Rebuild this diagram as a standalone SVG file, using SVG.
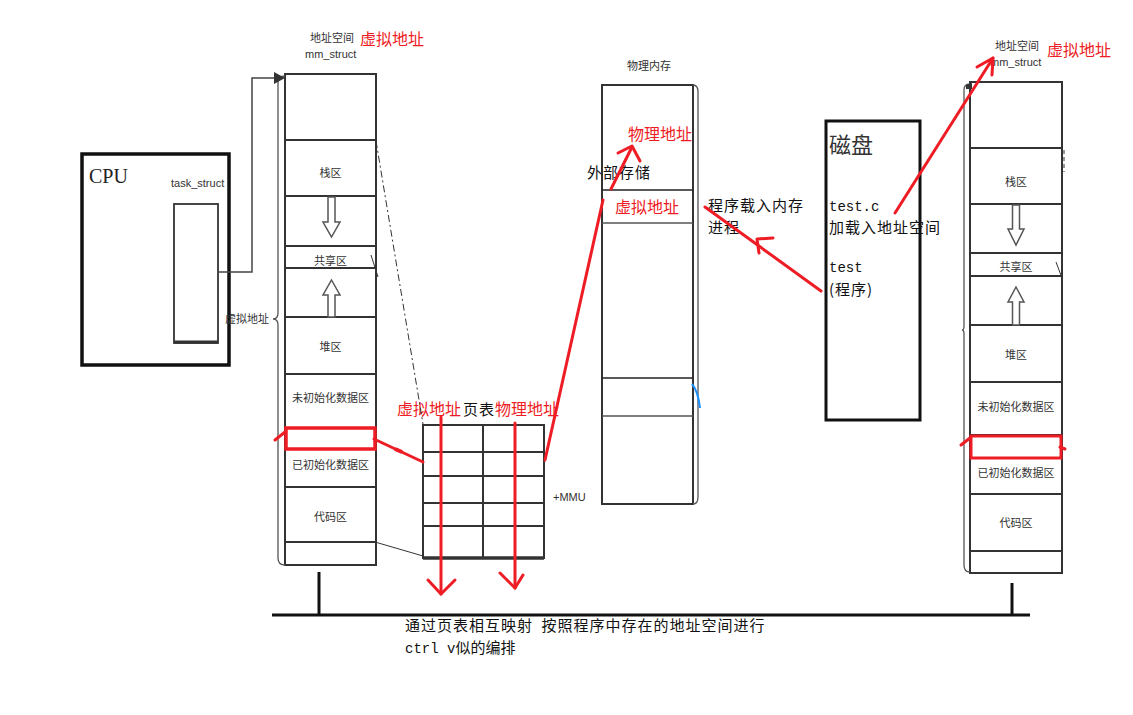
<svg xmlns="http://www.w3.org/2000/svg" width="1133" height="715" viewBox="0 0 1133 715">
<style>
.bx{fill:#fff;stroke:#333;stroke-width:2}
.ln{fill:none;stroke:#333;stroke-width:2}
.thin{fill:none;stroke:#555;stroke-width:1.3}
.red{fill:none;stroke:#ee1c24;stroke-width:3;stroke-linecap:round;stroke-linejoin:round}
.harrow{fill:#fff;stroke:#555;stroke-width:1.5}
.lab{font-family:"Noto Sans CJK SC","Liberation Sans",sans-serif;font-size:11px;fill:#333;text-anchor:middle}
.sm{font-family:"Liberation Sans","Noto Sans CJK SC",sans-serif;font-size:11px;fill:#333}
.cn{font-family:"Noto Sans CJK SC",sans-serif;font-size:15px;letter-spacing:1px;fill:#111}
.rt{font-family:"Noto Sans CJK SC",sans-serif;font-size:16px;fill:#ee1c24}
.mono{font-family:"Liberation Mono","Noto Sans CJK SC",monospace;font-size:14px;fill:#111}
</style>
<rect width="1133" height="715" fill="#fff"/>

<g id="cpu">
<rect x="82" y="154" width="147" height="211" fill="#fff" stroke="#111" stroke-width="3.5"/>
<text x="89" y="183" font-family="Liberation Serif,serif" font-size="20" fill="#222">CPU</text>
<text x="171" y="187" class="sm">task_struct</text>
<rect x="174" y="204" width="44" height="139" fill="#fff" stroke="#333" stroke-width="1.8"/>
<line x1="174" y1="342" x2="218" y2="342" stroke="#333" stroke-width="3"/>
</g>

<g id="vspace-left">
<text x="310" y="42" class="sm" font-family="Noto Sans CJK SC,sans-serif">地址空间</text>
<text x="360" y="45" class="rt">虚拟地址</text>
<text x="305" y="58" class="sm">mm_struct</text>
<rect x="285" y="74" width="91" height="491" class="bx"/>
<line x1="285" y1="140" x2="376" y2="140" class="ln"/>
<line x1="285" y1="196" x2="376" y2="196" class="ln"/>
<line x1="285" y1="246" x2="376" y2="246" class="ln"/>
<line x1="285" y1="268" x2="376" y2="268" class="ln"/>
<line x1="285" y1="317" x2="376" y2="317" class="ln"/>
<line x1="285" y1="374" x2="376" y2="374" class="ln"/>
<line x1="285" y1="428" x2="376" y2="428" class="ln"/>
<line x1="285" y1="487" x2="376" y2="487" class="ln"/>
<line x1="285" y1="542" x2="376" y2="542" class="ln"/>
<path d="M285,76 Q278,76 278,83 L278,313 Q278,319 273,319 Q278,319 278,325 L278,558 Q278,565 285,565" class="thin"/>
<text x="247" y="323" class="lab" font-size="11">虚拟地址</text>
<path d="M328,197 L335,197 L335,222 L340,222 L331.5,237 L323,222 L328,222 Z" class="harrow"/>
<path d="M331.5,280 L340,295 L335,295 L335,317 L328,317 L328,295 L323,295 Z" class="harrow"/>
<text x="330.5" y="177" class="lab">栈区</text>
<text x="330.5" y="265" class="lab">共享区</text>
<text x="330.5" y="351" class="lab">堆区</text>
<text x="330.5" y="402" class="lab">未初始化数据区</text>
<text x="330.5" y="469" class="lab">已初始化数据区</text>
<text x="330.5" y="521" class="lab">代码区</text>
<rect x="286" y="428" width="89" height="21" fill="none" stroke="#ee1c24" stroke-width="3.5"/>
<path d="M285,432 L275,440" class="red"/>
</g>

<g id="pagetable">
<text x="463" y="415" class="cn" font-size="13" letter-spacing="0">页表</text>
<text x="397" y="415" class="rt">虚拟地址</text>
<text x="495" y="415" class="rt">物理地址</text>
<rect x="423" y="425" width="121" height="133" class="bx"/>
<line x1="423" y1="452" x2="544" y2="452" class="ln"/>
<line x1="423" y1="476" x2="544" y2="476" class="ln"/>
<line x1="423" y1="503" x2="544" y2="503" class="ln"/>
<line x1="423" y1="526" x2="544" y2="526" class="ln"/>
<line x1="483" y1="425" x2="483" y2="558" class="ln"/>
<line x1="423" y1="558" x2="544" y2="558" stroke="#333" stroke-width="3.5"/>
<text x="553" y="501" class="sm" font-size="11">+MMU</text>
</g>

<g id="physmem">
<text x="627" y="70" class="sm" font-family="Noto Sans CJK SC,sans-serif" font-size="10.5">物理内存</text>
<rect x="602" y="85" width="91" height="419" class="bx"/>
<line x1="602" y1="190" x2="693" y2="190" stroke="#222" stroke-width="1.3"/>
<line x1="602" y1="223" x2="693" y2="223" stroke="#555" stroke-width="1.3"/>
<line x1="602" y1="378" x2="693" y2="378" stroke="#222" stroke-width="1.5"/>
<line x1="602" y1="416" x2="693" y2="416" stroke="#555" stroke-width="1.5"/>
<path d="M693,85 Q698,85 698,92 L698,497 Q698,504 693,504" class="thin"/>
<path d="M692,384 Q698,391 700,408" fill="none" stroke="#1e90ff" stroke-width="2"/>
<text x="628" y="140" class="rt">物理地址</text>
<text x="587" y="178" class="cn">外部存储</text>
<text x="615" y="213" class="rt">虚拟地址</text>
<text x="708" y="211" class="cn">程序载入内存</text>
<text x="708" y="233" class="cn">进程</text>
</g>

<g id="disk">
<rect x="826" y="121" width="94" height="299" fill="#fff" stroke="#111" stroke-width="3"/>
<text x="829" y="153" font-family="Noto Sans CJK SC,serif" font-size="22" fill="#333">磁盘</text>
<text x="829" y="211" class="mono">test.c</text>
<text x="829" y="233" class="cn">加载入地址空间</text>
<text x="829" y="272" class="mono">test</text>
<text x="829" y="295" class="cn" letter-spacing="0">(程序)</text>
</g>

<g id="vspace-right">
<text x="995" y="50" class="sm" font-family="Noto Sans CJK SC,sans-serif">地址空间</text>
<text x="1047" y="56" class="rt">虚拟地址</text>
<text x="990" y="66" class="sm">mm_struct</text>
<rect x="970" y="82" width="92" height="491" class="bx"/>
<line x1="970" y1="148" x2="1062" y2="148" class="ln"/>
<line x1="970" y1="204" x2="1062" y2="204" class="ln"/>
<line x1="970" y1="253" x2="1062" y2="253" class="ln"/>
<line x1="970" y1="276" x2="1062" y2="276" class="ln"/>
<line x1="970" y1="325" x2="1062" y2="325" class="ln"/>
<line x1="970" y1="382" x2="1062" y2="382" class="ln"/>
<line x1="970" y1="435" x2="1062" y2="435" class="ln"/>
<line x1="970" y1="494" x2="1062" y2="494" class="ln"/>
<line x1="970" y1="551" x2="1062" y2="551" class="ln"/>
<path d="M970,84 Q964,84 964,90 L964,326 Q964,330 962,330 Q964,330 964,334 L964,565 Q964,572 970,572" class="thin"/>
<path d="M966,85 L972,83 L972,89 L966,89 Z" fill="#333"/>
<line x1="1064" y1="150" x2="1064" y2="172" stroke="#333" stroke-width="1" stroke-dasharray="4 3"/>
<line x1="1056" y1="262" x2="1062" y2="278" stroke="#333" stroke-width="1"/>
<path d="M1012.5,205 L1019.5,205 L1019.5,229 L1024,229 L1016,245 L1008,229 L1012.5,229 Z" class="harrow"/>
<path d="M1016,287 L1024,302 L1019.5,302 L1019.5,325 L1012.5,325 L1012.5,302 L1008,302 Z" class="harrow"/>
<text x="1016" y="186" class="lab">栈区</text>
<text x="1016" y="271" class="lab">共享区</text>
<text x="1016" y="359" class="lab">堆区</text>
<text x="1016" y="411" class="lab">未初始化数据区</text>
<text x="1016" y="477" class="lab">已初始化数据区</text>
<text x="1016" y="527" class="lab">代码区</text>
<rect x="971" y="436" width="90" height="22" fill="none" stroke="#ee1c24" stroke-width="3"/>
<path d="M970,438 L961,445" class="red" stroke-width="2"/>
<path d="M1060,447 L1065,449" class="red" stroke-width="2"/>
</g>

<g id="connectors">
<path d="M218,272 L252,272 L252,78 L276,78" fill="none" stroke="#444" stroke-width="1.5"/>
<path d="M274,72 L285,78 L274,84 Z" fill="#333"/>
<line x1="376" y1="141" x2="423" y2="424" stroke="#333" stroke-width="1" stroke-dasharray="7 3 2 3"/>
<line x1="375" y1="542" x2="423" y2="556" stroke="#333" stroke-width="1"/>
<line x1="371" y1="255" x2="378" y2="277" stroke="#333" stroke-width="1"/>
<line x1="374" y1="439" x2="423" y2="462" class="red"/>
<path d="M395,449 L402,452" stroke="#ee1c24" stroke-width="4"/>
<line x1="441" y1="417" x2="441" y2="594" class="red"/>
<path d="M428,580 L441,594 L455,580" class="red"/>
<line x1="515" y1="423" x2="515" y2="588" class="red"/>
<path d="M500,573 L515,588 L523,575" class="red"/>
<line x1="545" y1="460" x2="603" y2="200" class="red" stroke-width="2.5"/>
<line x1="611" y1="189" x2="632" y2="147" class="red" stroke-width="2.5"/>
<path d="M618,153 L632,146 L640,161" class="red" stroke-width="2.5"/>
<line x1="821" y1="291" x2="705" y2="207" class="red" stroke-width="2.5"/>
<path d="M773,238 L757,239 L759,253" class="red" stroke-width="2.5"/>
<line x1="895" y1="213" x2="993" y2="58" class="red" stroke-width="2.5"/>
<path d="M977,67 L993,58 L992,75" class="red" stroke-width="2.5"/>
<line x1="272" y1="615" x2="1030" y2="615" stroke="#111" stroke-width="3"/>
<line x1="319" y1="572" x2="319" y2="615" stroke="#111" stroke-width="3"/>
<line x1="1012" y1="583" x2="1012" y2="615" stroke="#111" stroke-width="3"/>
</g>

<g id="caption">
<text x="405" y="631" class="cn">通过页表相互映射 <tspan dx="4">按照程序中存在的地址空间进行</tspan></text>
<text x="405" y="653" class="mono" font-size="14">ctrl v<tspan font-family="Noto Sans CJK SC,sans-serif" font-size="15">似的编排</tspan></text>
</g>
</svg>
